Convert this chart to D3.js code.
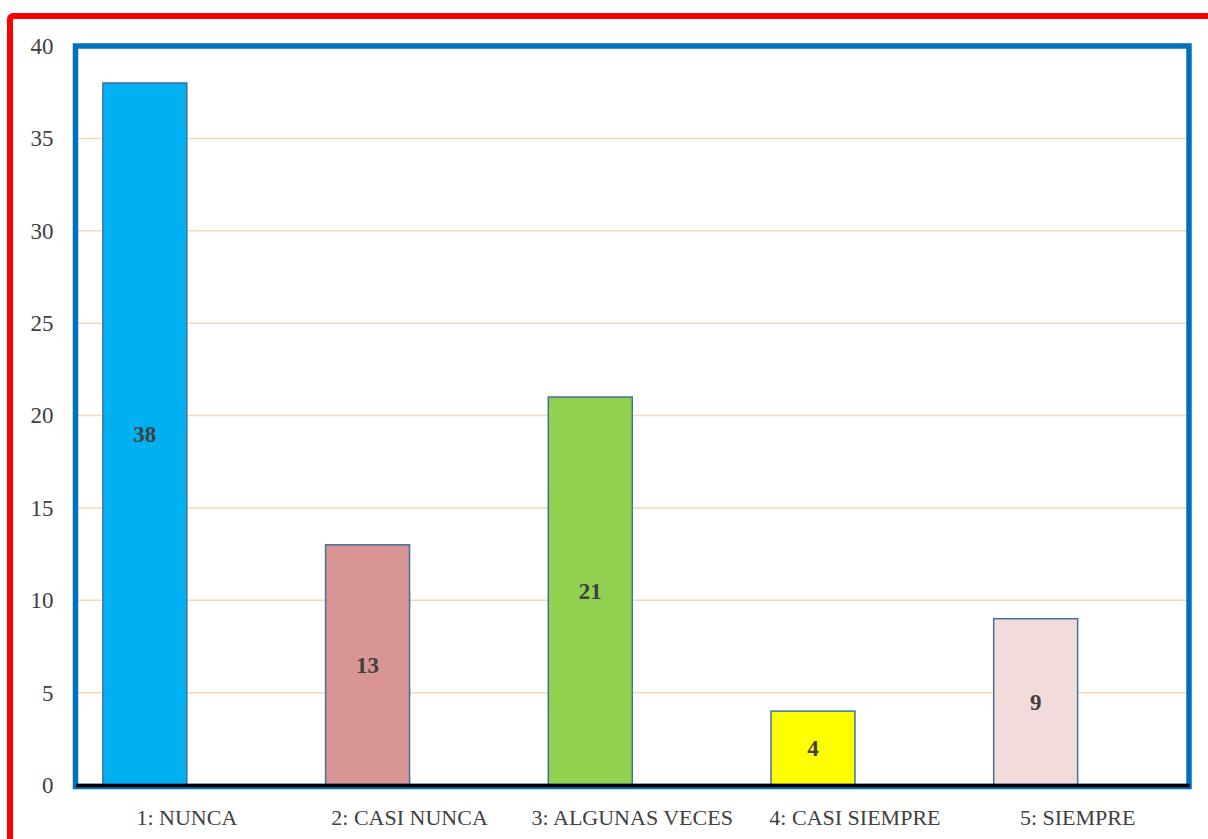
<!DOCTYPE html>
<html>
<head>
<meta charset="utf-8">
<script src="https://cdn.jsdelivr.net/npm/d3@7"></script>
<style>
  html, body { margin: 0; padding: 0; background: #fff; overflow: hidden; }
  svg { display: block; }
</style>
</head>
<body>
<svg id="chart" width="1208" height="839"></svg>
<script>
const categories = ["1: NUNCA", "2: CASI NUNCA", "3: ALGUNAS VECES", "4: CASI SIEMPRE", "5: SIEMPRE"];
const values = [38, 13, 21, 4, 9];
const barColors = ["#00B0F0", "#D99594", "#92D050", "#FFFF00", "#F2DCDB"];
const yTicks = [0, 5, 10, 15, 20, 25, 30, 35, 40];

const width = 1208;
const height = 839;
const plot = { left: 75.5, right: 1189, top: 46, bottom: 785 };
const font = "'Liberation Serif', 'DejaVu Serif', serif";
const textColor = "#404040";

const svg = d3.select("#chart");

const x = d3.scaleBand()
  .domain(categories)
  .range([plot.left, plot.right]);

const y = d3.scaleLinear()
  .domain([0, 40])
  .range([plot.bottom, plot.top]);

// bar sits left of the category centre (second series slot is empty)
const barW = x.bandwidth() * 0.377;
const barX = (c) => x(c) + x.bandwidth() / 2 - barW;

// outer red frame, runs off the right and bottom
svg.append("rect")
  .attr("x", 10).attr("y", 16)
  .attr("width", 1300).attr("height", 1000)
  .attr("rx", 3)
  .attr("fill", "none")
  .attr("stroke", "#FF0000")
  .attr("stroke-width", 6);

// gridlines
svg.append("g")
  .selectAll("line")
  .data(yTicks.filter((t) => t > 0 && t < 40))
  .join("line")
  .attr("x1", plot.left).attr("x2", plot.right)
  .attr("y1", (d) => y(d)).attr("y2", (d) => y(d))
  .attr("stroke", "#FCD5B4")
  .attr("stroke-width", 1.5);

// bars
svg.append("g")
  .selectAll("rect")
  .data(categories)
  .join("rect")
  .attr("x", (d) => barX(d))
  .attr("y", (d, i) => y(values[i]))
  .attr("width", barW)
  .attr("height", (d, i) => y(0) - y(values[i]))
  .attr("fill", (d, i) => barColors[i])
  .attr("stroke", "#41719C")
  .attr("stroke-width", 1.5);

// data labels
svg.append("g")
  .selectAll("text")
  .data(categories)
  .join("text")
  .attr("x", (d) => barX(d) + barW / 2)
  .attr("y", (d, i) => (y(values[i]) + y(0)) / 2)
  .attr("dy", "0.35em")
  .attr("text-anchor", "middle")
  .attr("font-family", font)
  .attr("font-weight", "bold")
  .attr("font-size", 23)
  .attr("fill", textColor)
  .text((d, i) => values[i]);

// plot area frame
svg.append("rect")
  .attr("x", plot.left).attr("y", plot.top)
  .attr("width", plot.right - plot.left)
  .attr("height", plot.bottom + 1.5 - plot.top)
  .attr("fill", "none")
  .attr("stroke", "#0070C0")
  .attr("stroke-width", 5.5);

// y axis
const yAxis = svg.append("g")
  .attr("transform", `translate(${plot.left - 22},0)`)
  .call(d3.axisLeft(y).tickValues(yTicks).tickSize(0).tickPadding(0));
yAxis.select(".domain").remove();
yAxis.selectAll("text")
  .attr("font-family", font)
  .attr("font-size", 23)
  .attr("fill", textColor);

// x axis
const xAxis = svg.append("g")
  .attr("transform", `translate(0,${plot.bottom})`)
  .call(d3.axisBottom(x).tickSize(0).tickPadding(24));
xAxis.select(".domain")
  .attr("stroke", "#000")
  .attr("stroke-width", 3.5);
xAxis.selectAll("text")
  .attr("font-family", font)
  .attr("font-size", 22)
  .attr("fill", textColor);
</script>
</body>
</html>
